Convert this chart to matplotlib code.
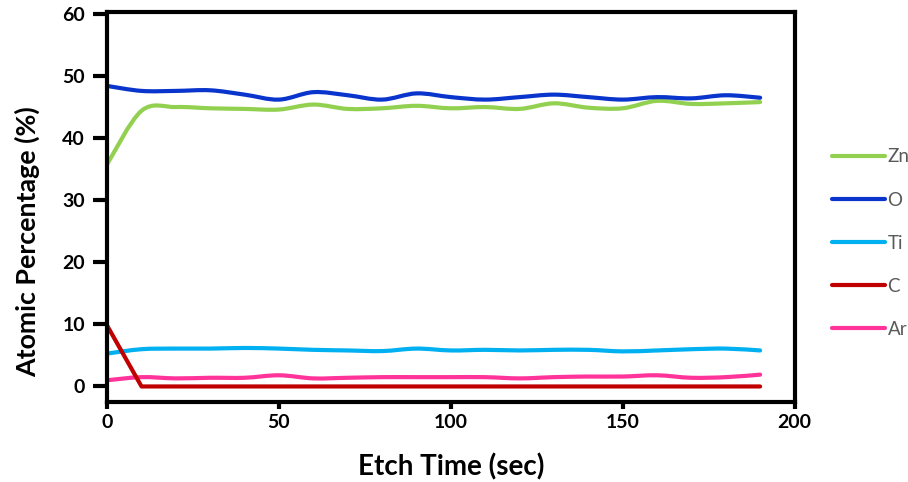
import numpy as np
import matplotlib.pyplot as plt
from matplotlib.path import Path
from matplotlib.patches import PathPatch
from matplotlib.lines import Line2D

# etch time (sec) and atomic percentage readings
etch_time = [0, 10, 20, 30, 40, 50, 60, 70, 80, 90, 100, 110, 120, 130, 140, 150, 160, 170, 180, 190]
zn = [35.8, 44.4, 45.0, 44.8, 44.7, 44.6, 45.4, 44.7, 44.8, 45.2, 44.8, 45.0, 44.7, 45.6, 44.9, 44.8, 46.0, 45.5, 45.6, 45.8]
o = [48.4, 47.6, 47.6, 47.7, 47.0, 46.2, 47.4, 46.9, 46.2, 47.2, 46.6, 46.2, 46.6, 47.0, 46.6, 46.2, 46.6, 46.4, 46.9, 46.5]
ti = [5.3, 6.0, 6.1, 6.1, 6.2, 6.1, 5.9, 5.8, 5.7, 6.1, 5.8, 5.9, 5.8, 5.9, 5.9, 5.65, 5.8, 6.0, 6.1, 5.8]
c = [9.8, 0, 0, 0, 0, 0, 0, 0, 0, 0, 0, 0, 0, 0, 0, 0, 0, 0, 0, 0]
ar = [1.0, 1.5, 1.3, 1.4, 1.4, 1.8, 1.3, 1.4, 1.5, 1.5, 1.5, 1.5, 1.3, 1.5, 1.6, 1.6, 1.8, 1.4, 1.5, 1.9]

labels = ['Zn', 'O', 'Ti', 'C', 'Ar']
colors = ['#92D050', '#0A35CC', '#00B0F0', '#C00000', '#FF3399']

plt.rcParams['font.family'] = ['Lato', 'DejaVu Sans']


def smooth_path(x, y):
    # Excel-style smoothed line: cubic bezier through the points
    x = np.asarray(x, float)
    y = np.asarray(y, float)
    pts = np.column_stack([x, y])
    verts = [pts[0]]
    codes = [Path.MOVETO]
    n = len(pts)
    for i in range(n - 1):
        p0 = pts[max(i - 1, 0)]
        p1 = pts[i]
        p2 = pts[i + 1]
        p3 = pts[min(i + 2, n - 1)]
        c1 = p1 + (p2 - p0) / 6
        c2 = p2 - (p3 - p1) / 6
        verts += [c1, c2, p2]
        codes += [Path.CURVE4] * 3
    return Path(verts, codes)


fig = plt.figure(figsize=(9.08, 4.82), dpi=100)
ax = fig.add_axes([0.118, 0.166, 0.757, 0.809])

series = [zn, o, ti, c, ar]
for lab, col, vals in zip(labels, colors, series):
    if lab == 'C':
        ax.plot(etch_time, vals, color=col, lw=3, solid_capstyle='round')
    else:
        ax.add_patch(PathPatch(smooth_path(etch_time, vals), fill=False,
                               edgecolor=col, lw=3, capstyle='round'))

ax.set_xlim(0, 200)
ax.set_ylim(-2.5, 60.3)
ax.set_xticks([0, 50, 100, 150, 200])
ax.set_yticks([0, 10, 20, 30, 40, 50, 60])

for s in ax.spines.values():
    s.set_linewidth(3)
ax.tick_params(axis='y', direction='out', length=10, width=3, labelsize=14, pad=6)
ax.tick_params(axis='x', direction='out', length=5, width=3, labelsize=14, pad=4)
for t in ax.get_xticklabels() + ax.get_yticklabels():
    t.set_fontweight('bold')

ax.set_xlabel('Etch Time (sec)', fontsize=20, fontweight='bold', labelpad=16)
ax.set_ylabel('Atomic Percentage (%)', fontsize=19.3, fontweight='bold')
ax.yaxis.set_label_coords(-0.097, 0.41)

handles = [Line2D([], [], color=col, lw=3, solid_capstyle='round') for col in colors]
leg = fig.legend(handles, labels, loc='upper left', bbox_to_anchor=(0.898, 0.727),
                 frameon=False, fontsize=13.5, handlelength=2.8, handletextpad=0.15,
                 labelspacing=1.39, labelcolor='#595959')

fig.savefig('out.png', dpi=100)
